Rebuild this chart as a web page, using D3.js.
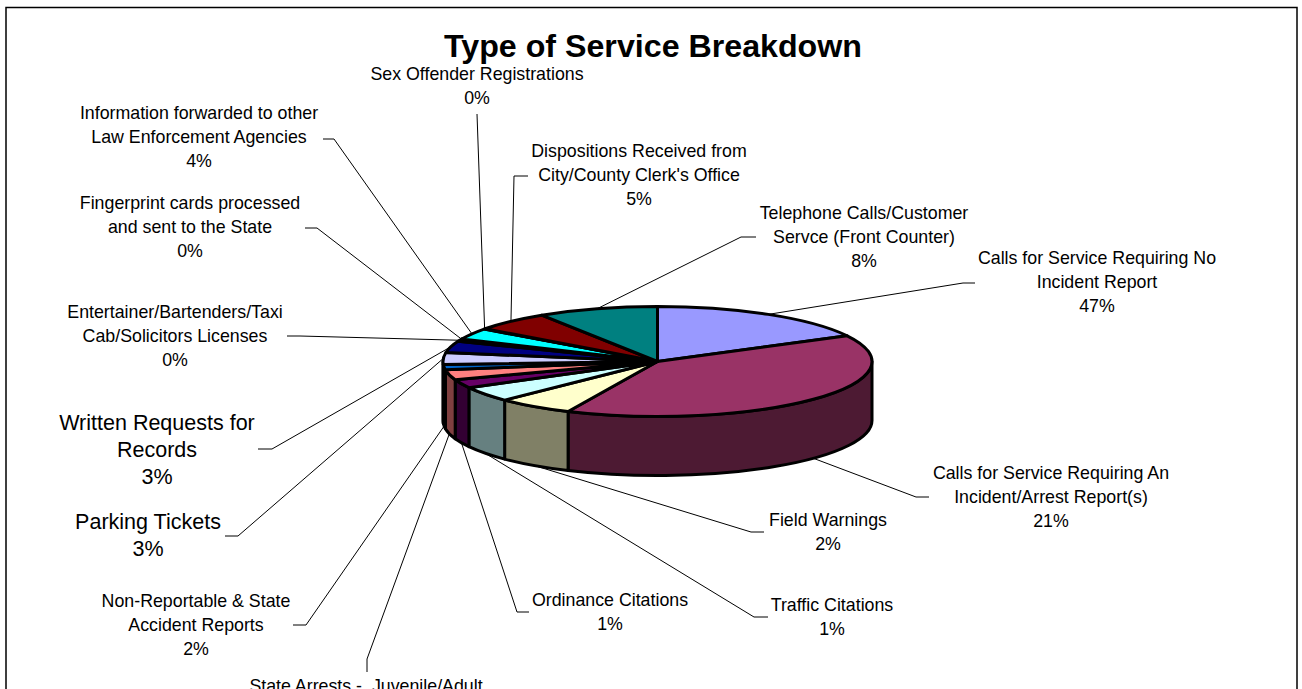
<!DOCTYPE html>
<html>
<head>
<meta charset="utf-8">
<title>Type of Service Breakdown</title>
<script src="https://d3js.org/d3.v7.min.js"></script>
<style>
    html, body { margin: 0; padding: 0; background: #fff; overflow: hidden; }
    svg { display: block; }
    text { font-family: "Liberation Sans", Arial, sans-serif; fill: #000; text-anchor: middle; white-space: pre; }
    .title { font-size: 32.2px; font-weight: bold; }
    .leader { fill: none; stroke: #000; stroke-width: 1px; }
    .top path { stroke: #000; stroke-width: 3px; vector-effect: non-scaling-stroke; stroke-linejoin: round; }
    .wall { stroke: #000; stroke-width: 3px; stroke-linejoin: round; }
</style>
</head>
<body>

<svg width="1302" height="689"></svg>

<script>

    var chartTitle = "Type of Service Breakdown";

    var categories = [
        ["Calls for Service Requiring No", "Incident Report"],
        ["Calls for Service Requiring An", "Incident/Arrest Report(s)"],
        ["Field Warnings"],
        ["Traffic Citations"],
        ["Ordinance Citations"],
        ["State Arrests -  Juvenile/Adult"],
        ["Non-Reportable & State", "Accident Reports"],
        ["Parking Tickets"],
        ["Written Requests for", "Records"],
        ["Entertainer/Bartenders/Taxi", "Cab/Solicitors Licenses"],
        ["Fingerprint cards processed", "and sent to the State"],
        ["Information forwarded to other", "Law Enforcement Agencies"],
        ["Sex Offender Registrations"],
        ["Dispositions Received from", "City/County Clerk's Office"],
        ["Telephone Calls/Customer", "Servce (Front Counter)"]
    ];

    // printed percentages, these don't agree with the slice sizes in the original
    var percentLabels = ["47%", "21%", "2%", "1%", "1%", "3%", "2%", "3%", "3%", "0%", "0%", "4%", "0%", "5%", "8%"];

    // size of each slice as drawn
    var sliceValues = [61.8, 141.7, 20.7, 16, 9, 10.8, 5.4, 12.5, 12.1, 2.2, 0.3, 11.9, 0.4, 20.7, 32.5];

    var sliceColors = ["#9999FF", "#993366", "#FFFFCC", "#CCFFFF", "#660066", "#FF8080", "#0066CC", "#CCCCFF",
        "#000080", "#FF00FF", "#FFFF00", "#00FFFF", "#800080", "#800000", "#008080"];

    // label placement: centre x, first baseline, font size, elbow x/y, end of leader x
    var labelX = [1097, 1051, 828, 832, 610, 366, 196, 148, 157, 175, 190, 199, 477, 639, 864];
    var labelY = [264, 479, 526, 611, 606, 692, 607, 529, 430, 318, 209, 119, 80, 157, 219];
    var labelSize = [17.8, 17.8, 17.8, 17.8, 17.8, 17.8, 17.8, 21.5, 21.5, 17.8, 17.8, 17.8, 17.8, 17.8, 17.8];
    var elbowX = [963, 916, 751, 754, 517, 367, 306, 238, 272, 300, 317, 334, 477, 514, 741];
    var elbowY = [283, 497, 532, 617, 612, 659, 625, 536, 449, 336, 228, 139, 114, 176, 237];
    var endX = [975, 929, 764, 768, 529, 367, 293, 225, 258, 287, 305, 323, 477, 528, 756];
    var endY = [283, 497, 532, 617, 612, 672, 625, 536, 449, 336, 228, 139, 114, 176, 237];

    var svg = d3.select("svg"),
        width = +svg.attr("width"),
        height = +svg.attr("height");

    var cx = 657.5, cy = 361.5, rx = 214.5, ry = 55, depth = 59;

    // frame runs off the bottom of the page
    svg.append("rect")
        .attr("x", 6)
        .attr("y", 7.5)
        .attr("width", 1291)
        .attr("height", 720)
        .attr("fill", "#fff")
        .attr("stroke", "#000")
        .attr("stroke-width", 1.5);

    svg.append("text")
        .attr("class", "title")
        .attr("x", 653)
        .attr("y", 57)
        .text(chartTitle);

    var pie = d3.pie().sort(null).value(function(d) { return d; });
    var slices = pie(sliceValues);

    var arc = d3.arc().innerRadius(0).outerRadius(rx);

    function px(a) { return cx + rx * Math.sin(a); }
    function py(a) { return cy - ry * Math.cos(a); }

    // leaders go underneath the pie
    var leaderLine = d3.line();

    svg.append("g").selectAll("path")
        .data(slices)
        .enter().append("path")
            .attr("class", "leader")
            .attr("d", function(d, i) {
                var mid = (d.startAngle + d.endAngle) / 2;
                var front = Math.cos(mid) < 0 && mid < Math.PI * 1.5;
                return leaderLine([
                    [px(mid), py(mid) + (front ? depth : 0)],
                    [elbowX[i], elbowY[i]],
                    [endX[i], endY[i]]
                ]);
            });

    // side wall, only the part of each slice on the front half
    var walls = slices.map(function(d, i) {
        return {
            a0: Math.max(d.startAngle, Math.PI / 2),
            a1: Math.min(d.endAngle, Math.PI * 1.5),
            color: sliceColors[i]
        };
    }).filter(function(d) { return d.a1 > d.a0; });

    svg.append("g").selectAll("path")
        .data(walls)
        .enter().append("path")
            .attr("class", "wall")
            .attr("fill", function(d) {
                var c = d3.rgb(d.color);
                return d3.rgb(c.r / 2, c.g / 2, c.b / 2);
            })
            .attr("d", function(d) {
                var x0 = px(d.a0), y0 = py(d.a0), x1 = px(d.a1), y1 = py(d.a1);
                return "M" + x0 + "," + y0 +
                    "A" + rx + "," + ry + " 0 0 1 " + x1 + "," + y1 +
                    "L" + x1 + "," + (y1 + depth) +
                    "A" + rx + "," + ry + " 0 0 0 " + x0 + "," + (y0 + depth) + "Z";
            });

    // top face, a round d3.arc pie squashed to an ellipse
    svg.append("g")
        .attr("class", "top")
        .attr("transform", "translate(" + cx + "," + cy + ") scale(1," + (ry / rx) + ")")
        .selectAll("path")
        .data(slices)
        .enter().append("path")
            .attr("fill", function(d, i) { return sliceColors[i]; })
            .attr("d", arc);

    var labels = svg.append("g").selectAll("text")
        .data(categories)
        .enter().append("text")
            .attr("font-size", function(d, i) { return labelSize[i]; })
            .attr("y", function(d, i) { return labelY[i]; });

    labels.each(function(d, i) {
        var lines = d.concat([percentLabels[i]]);
        var lineGap = labelSize[i] > 20 ? 27 : 24.2;
        d3.select(this).selectAll("tspan")
            .data(lines)
            .enter().append("tspan")
                .attr("x", labelX[i])
                .attr("y", function(l, j) { return labelY[i] + j * lineGap; })
                .text(function(l) { return l; });
    });

</script>

</body>
</html>
